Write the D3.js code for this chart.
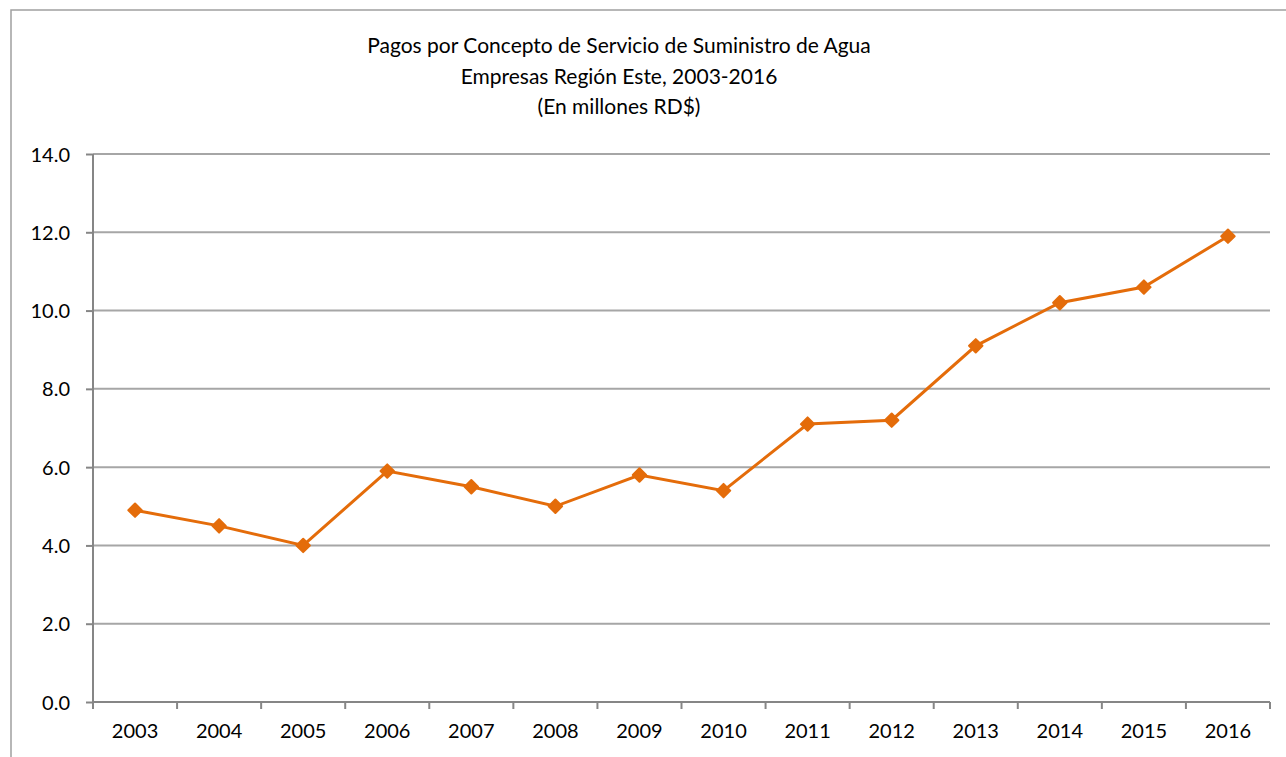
<!DOCTYPE html>
<html>
<head>
<meta charset="utf-8">
<script src="https://cdn.jsdelivr.net/npm/d3@7"></script>
<style>
  body { margin: 0; background: #fff; }
  text { font-family: Lato, "Open Sans", sans-serif; fill: #000; }
</style>
</head>
<body>
<div id="chart"></div>
<script>
// data
var years = ["2003", "2004", "2005", "2006", "2007", "2008", "2009", "2010",
             "2011", "2012", "2013", "2014", "2015", "2016"];
var pagos = [4.9, 4.5, 4.0, 5.9, 5.5, 5.0, 5.8, 5.4, 7.1, 7.2, 9.1, 10.2, 10.6, 11.9];
var yTicks = [0, 2, 4, 6, 8, 10, 12, 14];
var titleLines = ["Pagos por Concepto de Servicio de Suministro de Agua",
                  "Empresas Región Este, 2003-2016",
                  "(En millones RD$)"];

var W = 1286, H = 757;
var margin = {top: 154, bottom: 55, left: 93, right: 16};
var width = W - margin.left - margin.right,
    height = H - margin.top - margin.bottom;

var svg = d3.select("#chart").append("svg")
    .attr("width", W)
    .attr("height", H);

// outer chart frame
svg.append("rect")
    .attr("x", 11).attr("y", 10)
    .attr("width", W + 20).attr("height", H + 20)
    .style("fill", "none")
    .style("stroke", "#a0a0a0")
    .style("stroke-width", 1.5);

svg.append("text")
    .attr("x", 619)
    .attr("y", 53)
    .attr("text-anchor", "middle")
    .style("font-size", "21px")
  .selectAll("tspan")
  .data(titleLines)
  .enter().append("tspan")
    .attr("x", 619)
    .attr("dy", function(d, i) { return i === 0 ? 0 : 30.5; })
    .text(function(d) { return d; });

var g = svg.append("g")
    .attr("transform", "translate(" + margin.left + "," + margin.top + ")");

var x = d3.scaleBand()
    .domain(years)
    .range([0, width]);

var y = d3.scaleLinear()
    .domain([0, 14])
    .range([height, 0]);

// gridlines
g.append("g")
    .selectAll("line")
    .data(yTicks.filter(function(d) { return d > 0; }))
    .enter().append("line")
    .attr("x1", 0).attr("x2", width)
    .attr("y1", function(d) { return y(d); })
    .attr("y2", function(d) { return y(d); })
    .style("stroke", "#a6a6a6")
    .style("stroke-width", 2);

var yAxis = d3.axisLeft(y)
    .tickValues(yTicks)
    .tickFormat(d3.format(".1f"))
    .tickSize(7)
    .tickPadding(16);

var gy = g.append("g").call(yAxis);
gy.select(".domain").attr("d", "M0,0V" + height).style("stroke", "#868686").style("stroke-width", 2);
gy.selectAll(".tick line").style("stroke", "#868686").style("stroke-width", 2);
gy.selectAll(".tick text").style("font-size", "20px").attr("dy", "0.35em");

var xAxis = d3.axisBottom(x).tickSize(0).tickPadding(22);
var gx = g.append("g")
    .attr("transform", "translate(0," + height + ")")
    .call(xAxis);
gx.select(".domain").attr("d", "M0,0H" + width).style("stroke", "#868686").style("stroke-width", 2);
gx.selectAll(".tick text").style("font-size", "20px");

// category boundary ticks
gx.append("g")
    .selectAll("line")
    .data(years.concat(["end"]))
    .enter().append("line")
    .attr("x1", function(d, i) { return i * x.step(); })
    .attr("x2", function(d, i) { return i * x.step(); })
    .attr("y1", 0).attr("y2", 7)
    .style("stroke", "#868686")
    .style("stroke-width", 2);

var line = d3.line()
    .x(function(d, i) { return x(years[i]) + x.bandwidth() / 2; })
    .y(function(d) { return y(d); });

g.append("path")
    .datum(pagos)
    .attr("d", line)
    .style("fill", "none")
    .style("stroke", "#e46c0a")
    .style("stroke-width", 3);

g.append("g")
    .selectAll("path")
    .data(pagos)
    .enter().append("path")
    .attr("d", d3.symbol().type(d3.symbolDiamond2).size(115))
    .attr("transform", function(d, i) {
        return "translate(" + (x(years[i]) + x.bandwidth() / 2) + "," + y(d) + ")";
    })
    .style("fill", "#e46c0a")
    .style("stroke", "#e46c0a")
    .style("stroke-width", 2)
    .style("stroke-linejoin", "round");
</script>
</body>
</html>
